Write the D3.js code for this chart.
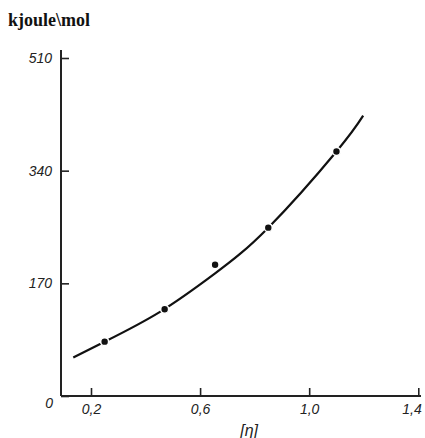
<!DOCTYPE html>
<html>
<head>
    <meta charset="utf-8">
    <title>kjoule\mol</title>
    <script src="https://d3js.org/d3.v7.min.js"></script>
    <style>
        body { margin: 0; background: #fff; }
        .tick text { font-family: "Liberation Sans", Arial, sans-serif; font-style: italic; font-size: 14px; fill: #222; }
    </style>
</head>
<body>
    <div id='view'></div>
    <script>
        // measured points
        var etaValues = [0.25, 0.47, 0.655, 0.85, 1.10];
        var energyValues = [82, 131, 198, 254, 369];

        // hand-drawn fitted curve
        var curveEta = [0.135, 0.25, 0.453, 0.655, 0.85, 1.10, 1.198];
        var curveEnergy = [58, 82, 127, 185, 254, 369, 423];

        var xTicks = [0.2, 0.6, 1.0, 1.4];
        var yTicks = [0, 170, 340, 510];

        var width = 425;
        var height = 438;

        var svg = d3.select("#view")
            .append("svg")
            .attr("width", width)
            .attr("height", height);

        var x = d3.scaleLinear().domain([0.09, 1.41]).range([61, 421]);
        var y = d3.scaleLinear().domain([0, 510]).range([396, 58]);

        var fmt = function (d) { return d3.format(".1f")(d).replace(".", ","); };

        // title
        svg.append("text")
            .attr("x", 8)
            .attr("y", 26)
            .style("font-family", "'Liberation Serif', 'Times New Roman', serif")
            .style("font-weight", "bold")
            .style("font-size", "18px")
            .style("fill", "#111")
            .text("kjoule\\mol");

        // x axis
        var xAxis = svg.append("g")
            .attr("transform", "translate(0," + y(0) + ")")
            .call(d3.axisBottom(x).tickValues(xTicks).tickSizeInner(-8).tickSizeOuter(0).tickPadding(8).tickFormat(fmt));
        xAxis.select(".domain").remove();
        xAxis.selectAll(".tick line").attr("stroke", "#222").attr("stroke-width", 1.6);
        // last label sits at the right edge
        xAxis.selectAll(".tick").filter(function (d) { return d === 1.4; })
            .select("text").attr("text-anchor", "end").attr("x", 3);

        // y axis
        var yAxis = svg.append("g")
            .attr("transform", "translate(" + x(0.09) + ",0)")
            .call(d3.axisLeft(y).tickValues(yTicks).tickSizeInner(-8).tickSizeOuter(0).tickPadding(9).tickFormat(d3.format("d")));
        yAxis.select(".domain").remove();
        yAxis.selectAll(".tick line").attr("stroke", "#222").attr("stroke-width", 1.6);
        yAxis.selectAll(".tick").filter(function (d) { return d === 0; })
            .select("text").attr("dy", "0.85em").attr("x", -8);

        // axis lines
        svg.append("line")
            .attr("x1", x(0.09)).attr("x2", x(1.41))
            .attr("y1", y(0)).attr("y2", y(0))
            .attr("stroke", "#222").attr("stroke-width", 2);
        svg.append("line")
            .attr("x1", x(0.09)).attr("x2", x(0.09))
            .attr("y1", y(0)).attr("y2", y(522))
            .attr("stroke", "#222").attr("stroke-width", 2);

        // x axis title
        svg.append("text")
            .attr("x", x(0.78))
            .attr("y", 436)
            .attr("text-anchor", "middle")
            .style("font-family", "'Liberation Sans', Arial, sans-serif")
            .style("font-style", "italic")
            .style("font-size", "16px")
            .style("fill", "#222")
            .text("[η]");

        // curve
        var curvePts = curveEta.map(function (d, i) { return [d, curveEnergy[i]]; });
        svg.append("path")
            .datum(curvePts)
            .attr("fill", "none")
            .attr("stroke", "#111")
            .attr("stroke-width", 2.2)
            .attr("d", d3.line()
                .x(function (d) { return x(d[0]); })
                .y(function (d) { return y(d[1]); })
                .curve(d3.curveNatural));

        // points
        svg.selectAll("circle.pt")
            .data(etaValues)
            .enter().append("circle")
            .attr("class", "pt")
            .attr("cx", function (d) { return x(d); })
            .attr("cy", function (d, i) { return y(energyValues[i]); })
            .attr("r", 4)
            .attr("fill", "#111")
            .attr("stroke", "#fff")
            .attr("stroke-width", 1.6);
    </script>
</body>
</html>
